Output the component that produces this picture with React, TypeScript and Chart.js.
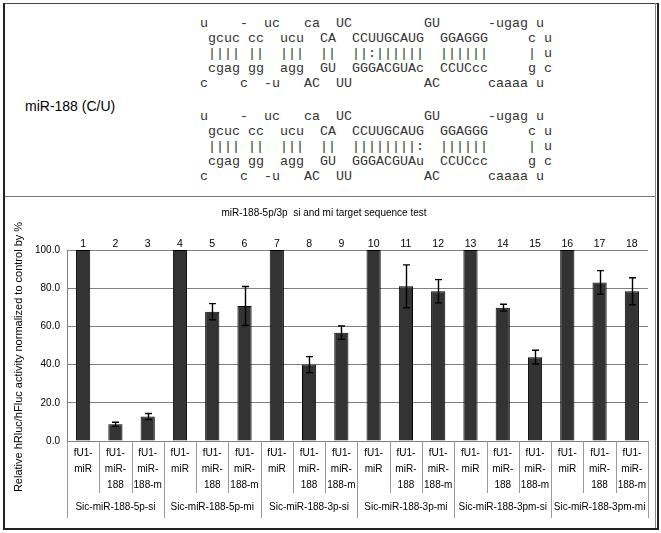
import React, { useEffect, useRef } from 'react';
import { Chart, registerables } from 'chart.js';

Chart.register(...registerables);

// ---------- data ----------
const categoryLabels: string[][] = [
  ['fU1-', 'miR'], ['fU1-', 'miR-', '188'], ['fU1-', 'miR-', '188-m'],
  ['fU1-', 'miR'], ['fU1-', 'miR-', '188'], ['fU1-', 'miR-', '188-m'],
  ['fU1-', 'miR'], ['fU1-', 'miR-', '188'], ['fU1-', 'miR-', '188-m'],
  ['fU1-', 'miR'], ['fU1-', 'miR-', '188'], ['fU1-', 'miR-', '188-m'],
  ['fU1-', 'miR'], ['fU1-', 'miR-', '188'], ['fU1-', 'miR-', '188-m'],
  ['fU1-', 'miR'], ['fU1-', 'miR-', '188'], ['fU1-', 'miR-', '188-m'],
];
const barNumbers = ['1', '2', '3', '4', '5', '6', '7', '8', '9', '10', '11', '12', '13', '14', '15', '16', '17', '18'];
const groupLabels = [
  'Sic-miR-188-5p-si', 'Sic-miR-188-5p-mi', 'Sic-miR-188-3p-si',
  'Sic-miR-188-3p-mi', 'Sic-miR-188-3pm-si', 'Sic-miR-188-3pm-mi',
];
const values = [100, 8.8, 12.8, 100, 67.7, 70.7, 100, 40.0, 56.7, 100, 81.0, 78.4, 100, 69.8, 43.9, 100, 83.0, 78.4];
const errors = [0, 1.0, 1.6, 0, 4.2, 10.2, 0, 4.2, 3.5, 0, 11.2, 6.1, 0, 1.8, 3.6, 0, 6.2, 7.1];
const chartTitle = 'miR-188-5p/3p  si and mi target sequence test';
const yAxisTitle = 'Relative hRluc/hFluc activity normalized to control by %';
const yMin = 0;
const yMax = 100;
const yStep = 20;

const rowLabel = 'miR-188 (C/U)';
const structureA = [
  'u    -  uc   ca  UC         GU      -ugag u',
  ' gcuc cc  ucu  CA  CCUUGCAUG  GGAGGG     c u',
  ' |||| ||  |||  ||  ||:||||||  ||||||     | u',
  ' cgag gg  agg  GU  GGGACGUAc  CCUCcc     g c',
  'c    c  -u   AC  UU         AC      caaaa u',
];
const structureB = [
  'u    -  uc   ca  UC         GU      -ugag u',
  ' gcuc cc  ucu  CA  CCUUGCAUG  GGAGGG     c u',
  ' |||| ||  |||  ||  ||||||||:  ||||||     | u',
  ' cgag gg  agg  GU  GGGACGUAu  CCUCcc     g c',
  'c    c  -u   AC  UU         AC      caaaa u',
];

const SANS = '"Liberation Sans", Arial, sans-serif';

// ---------- plugins ----------
const errorBarPlugin = {
  id: 'errorBars',
  afterDatasetsDraw(chart: any) {
    const meta = chart.getDatasetMeta(0);
    const ys = chart.scales.y;
    const ctx = chart.ctx;
    ctx.save();
    ctx.strokeStyle = '#000';
    ctx.lineWidth = 1.4;
    meta.data.forEach((bar: any, i: number) => {
      const e = errors[i];
      if (!e) return;
      const x = Math.round(bar.x) + 0.5;
      const yTop = ys.getPixelForValue(values[i] + e);
      const yBot = ys.getPixelForValue(values[i] - e);
      ctx.beginPath();
      ctx.moveTo(x, yTop);
      ctx.lineTo(x, yBot);
      ctx.moveTo(x - 3.5, yTop);
      ctx.lineTo(x + 3.5, yTop);
      ctx.moveTo(x - 3.5, yBot);
      ctx.lineTo(x + 3.5, yBot);
      ctx.stroke();
    });
    ctx.restore();
  },
};

const separatorPlugin = {
  id: 'separators',
  afterDraw(chart: any) {
    const xs = chart.scales.x;
    const ctx = chart.ctx;
    const n = categoryLabels.length;
    const slot = xs.getPixelForValue(1) - xs.getPixelForValue(0);
    const base = chart.chartArea.bottom;
    ctx.save();
    ctx.strokeStyle = '#9a9a9a';
    ctx.lineWidth = 1;
    for (let i = 0; i <= n; i++) {
      const x = Math.round(xs.getPixelForValue(0) - slot / 2 + i * slot) + 0.5;
      const len = i % 3 === 0 ? 77 : 52;
      ctx.beginPath();
      ctx.moveTo(x, base);
      ctx.lineTo(x, base + len);
      ctx.stroke();
    }
    ctx.restore();
  },
};

const yTitlePlugin = {
  id: 'yTitle',
  afterDraw(chart: any) {
    const ctx = chart.ctx;
    ctx.save();
    ctx.translate(19, 160);
    ctx.rotate(-Math.PI / 2);
    ctx.fillStyle = '#000';
    ctx.font = '11px ' + SANS;
    ctx.textAlign = 'center';
    ctx.textBaseline = 'middle';
    ctx.fillText(yAxisTitle, 0, 0);
    ctx.restore();
  },
};

function BarChart() {
  const ref = useRef<HTMLCanvasElement | null>(null);
  useEffect(() => {
    if (!ref.current) return;
    Chart.defaults.font.family = SANS;
    const chart = new Chart(ref.current, {
      type: 'bar',
      data: {
        labels: categoryLabels,
        datasets: [
          {
            data: values,
            xAxisID: 'x',
            yAxisID: 'y',
            backgroundColor: '#333333',
            borderColor: '#000',
            borderWidth: 1,
            barPercentage: 0.44,
            categoryPercentage: 1,
          },
        ],
      },
      options: {
        responsive: false,
        animation: false,
        devicePixelRatio: 1,
        layout: { padding: { left: 0, right: 13, top: 0, bottom: 0 } },
        plugins: {
          legend: { display: false },
          tooltip: { enabled: false },
          title: {
            display: true,
            text: chartTitle,
            color: '#000',
            font: { size: 10, weight: 'normal', lineHeight: 1.2 },
            padding: { top: 10, bottom: 0 },
          },
        },
        scales: {
          x: {
            type: 'category',
            position: 'bottom',
            weight: 0,
            offset: true,
            grid: { display: false, drawTicks: false },
            border: { display: true, color: '#808080' },
            ticks: {
              autoSkip: false,
              maxRotation: 0,
              minRotation: 0,
              padding: 4,
              color: '#000',
              font: { size: 10, lineHeight: 1.6 },
            },
            afterFit: (s: any) => { s.height = 56; },
          },
          x2: {
            type: 'category',
            position: 'bottom',
            weight: 1,
            offset: true,
            labels: groupLabels,
            grid: { display: false, drawTicks: false },
            border: { display: false },
            ticks: { autoSkip: false, maxRotation: 0, minRotation: 0, padding: 4, color: '#000', font: { size: 10 } },
            afterFit: (s: any) => { s.height = 36; },
          },
          xTop: {
            type: 'category',
            position: 'top',
            offset: true,
            labels: barNumbers,
            grid: { display: false, drawTicks: false },
            border: { display: false },
            ticks: { autoSkip: false, maxRotation: 0, minRotation: 0, padding: 0, color: '#000', font: { size: 10.5 } },
            afterFit: (s: any) => { s.height = 31; },
          },
          y: {
            min: yMin,
            max: yMax,
            ticks: {
              stepSize: yStep,
              padding: 7,
              color: '#000',
              font: { size: 10 },
              callback: (v: any) => Number(v).toFixed(1),
            },
            grid: { color: '#808080', drawTicks: false },
            border: { display: true, color: '#808080' },
            afterFit: (s: any) => { s.width = 67; },
          },
        },
      } as any,
      plugins: [errorBarPlugin, separatorPlugin, yTitlePlugin],
    });
    return () => chart.destroy();
  }, []);
  return <canvas ref={ref} width={661} height={336} style={{ display: 'block', width: 661, height: 336 }} />;
}

const monoStyle: React.CSSProperties = {
  position: 'absolute',
  left: 200,
  margin: 0,
  fontFamily: '"Liberation Mono", "Courier New", monospace',
  fontSize: 13.33,
  lineHeight: '15px',
  color: '#333',
  whiteSpace: 'pre',
};

export default function App() {
  return (
    <div style={{ position: 'absolute', left: 0, top: 0, width: 661, height: 533, background: '#fff', overflow: 'hidden' }}>
      <div style={{ position: 'absolute', left: 0, top: 197, width: 661, height: 336 }}>
        <BarChart />
      </div>
      <div style={{ position: 'absolute', left: 25, top: 97, fontFamily: SANS, fontSize: 14, lineHeight: '18px', color: '#000' }}>
        {rowLabel}
      </div>
      <pre style={{ ...monoStyle, top: 16 }}>{structureA.join('\n')}</pre>
      <pre style={{ ...monoStyle, top: 109 }}>{structureB.join('\n')}</pre>
      {/* frame */}
      <div style={{ position: 'absolute', left: 3, top: 3, width: 655, height: 1, background: '#444' }} />
      <div style={{ position: 'absolute', left: 3, top: 3, width: 2, height: 527, background: '#222' }} />
      <div style={{ position: 'absolute', left: 655, top: 3, width: 1, height: 525, background: '#888' }} />
      <div style={{ position: 'absolute', left: 657, top: 3, width: 2, height: 527, background: '#222' }} />
      <div style={{ position: 'absolute', left: 3, top: 528, width: 656, height: 2, background: '#222' }} />
      <div style={{ position: 'absolute', left: 5, top: 196, width: 650, height: 1, background: '#777' }} />
    </div>
  );
}
